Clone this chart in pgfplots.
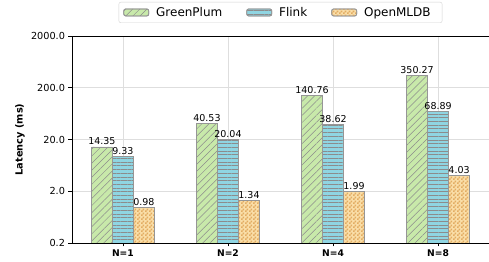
\documentclass[border=0pt]{standalone}
\usepackage{fontspec}
\setmainfont{DejaVu Sans}
\usepackage{pgfplots}
\pgfplotsset{compat=1.18}
\usetikzlibrary{patterns,patterns.meta}
\definecolor{cgreen}{RGB}{200,233,170}
\definecolor{cblue}{RGB}{143,213,226}
\definecolor{corange}{RGB}{250,222,168}
\definecolor{corangedark}{RGB}{226,172,98}
\definecolor{hatchc}{RGB}{140,140,140}
\definecolor{edgec}{RGB}{150,150,150}
\definecolor{gridc}{RGB}{222,222,222}
\definecolor{legbox}{RGB}{210,210,210}
\pgfdeclarepattern{
  name=finechecker, type=uncolored,
  bottom left={\pgfpointorigin}, top right={\pgfpoint{3.6bp}{3.6bp}},
  tile size={\pgfpoint{3.6bp}{3.6bp}},
  code={
    \pgfpathrectangle{\pgfpointorigin}{\pgfpoint{1.8bp}{1.8bp}}
    \pgfpathrectangle{\pgfpoint{1.8bp}{1.8bp}}{\pgfpoint{1.8bp}{1.8bp}}
    \pgfusepath{fill}
  }
}
\tikzset{
  pgreen/.style={pattern={Lines[angle=45,distance=5bp,line width=0.5bp]}, pattern color=hatchc},
  pblue/.style={pattern={Lines[angle=0,distance=3.7bp,line width=0.6bp]}, pattern color=hatchc},
  porange/.style={pattern=finechecker, pattern color=corangedark},
}
\newcommand\legbar[2]{%
  \draw[draw=edgec, line width=0.8bp, fill=#1] (-5bp,-3.5bp) rectangle (20bp,3.5bp);
  \draw[draw=edgec, line width=0.8bp, #2] (-5bp,-3.5bp) rectangle (20bp,3.5bp);}
\begin{document}
\begin{tikzpicture}
\begin{axis}[
  at={(0,0)}, anchor=south west,
  scale only axis, width=417bp, height=207bp,
  ymode=log, log basis y=10, ymin=0.2, ymax=2000, log origin y=infty,
  xmin=-0.485, xmax=3.485,
  xtick={0,1,2,3}, xticklabels={N=1,N=2,N=4,N=8},
  ytick={0.2,2,20,200,2000}, yticklabels={0.2,2.0,20.0,200.0,2000.0},
  minor y tick style={draw=none},
  xtick pos=bottom, ytick pos=left,
  tick align=outside, major tick length=3.5bp,
  tick style={black, line width=0.8bp},
  axis line style={black, line width=0.8bp},
  grid=major, major grid style={gridc, line width=0.8bp},
  /pgf/number format/assume math mode=true,
  yticklabel style={font=\fontsize{9.7bp}{11bp}\selectfont},
  xticklabel style={font=\bfseries\fontsize{9.2bp}{10bp}\selectfont},
  ylabel={Latency (ms)},
  ylabel style={font=\bfseries\fontsize{9.8bp}{11bp}\selectfont, at={(axis description cs:-0.1127,0.5)}, anchor=south, inner sep=0pt},
  ybar, bar width=0.2,
  nodes near coords style={font=\fontsize{9.5bp}{10bp}\selectfont, inner sep=1.5bp, anchor=south, black},
  legend columns=3,
  legend style={at={(axis description cs:0.5,1.063)}, anchor=south, draw=legbox, rounded corners=2bp,
    font=\fontsize{12bp}{14bp}\selectfont, inner xsep=4.5bp, inner ysep=3bp,
    nodes={inner xsep=7bp},
    /tikz/every even column/.append style={column sep=17bp}},
]
% GreenPlum
\addplot[bar shift=-0.2, draw=edgec, line width=0.8bp, fill=cgreen,
  point meta=explicit symbolic, nodes near coords,
  legend image code/.code={\legbar{cgreen}{pgreen}}]
  coordinates {(0,14.35) [14.35] (1,40.53) [40.53] (2,140.76) [140.76] (3,350.27) [350.27]};
\addlegendentry{GreenPlum}
\addplot[bar shift=-0.2, draw=edgec, line width=0.8bp, pgreen, forget plot]
  coordinates {(0,14.35) (1,40.53) (2,140.76) (3,350.27)};
% Flink
\addplot[bar shift=0, draw=edgec, line width=0.8bp, fill=cblue,
  point meta=explicit symbolic, nodes near coords,
  legend image code/.code={\legbar{cblue}{pblue}}]
  coordinates {(0,9.33) [9.33] (1,20.04) [20.04] (2,38.62) [38.62] (3,68.89) [68.89]};
\addlegendentry{Flink}
\addplot[bar shift=0, draw=edgec, line width=0.8bp, pblue, forget plot]
  coordinates {(0,9.33) (1,20.04) (2,38.62) (3,68.89)};
% OpenMLDB
\addplot[bar shift=0.2, draw=edgec, line width=0.8bp, fill=corange,
  point meta=explicit symbolic, nodes near coords,
  legend image code/.code={\legbar{corange}{porange}}]
  coordinates {(0,0.98) [0.98] (1,1.34) [1.34] (2,1.99) [1.99] (3,4.03) [4.03]};
\addlegendentry{OpenMLDB}
\addplot[bar shift=0.2, draw=edgec, line width=0.8bp, porange, forget plot]
  coordinates {(0,0.98) (1,1.34) (2,1.99) (3,4.03)};
\end{axis}
\pgfresetboundingbox
\path (-72bp,-19bp) rectangle (417bp,243bp);
\end{tikzpicture}
\end{document}
